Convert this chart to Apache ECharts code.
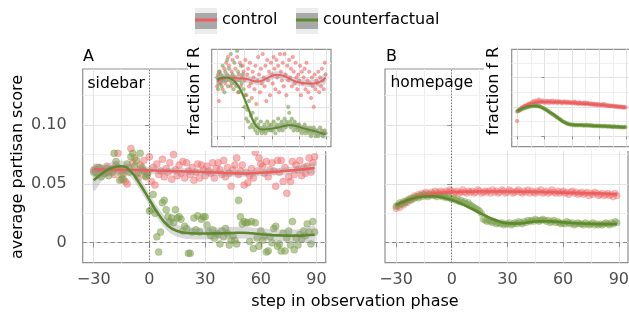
<!DOCTYPE html>
<html><head><meta charset="utf-8">
<script src="https://cdn.jsdelivr.net/npm/echarts@6/dist/echarts.min.js"></script>
<style>html,body{margin:0;padding:0;background:#fff}#c{width:629px;height:318px}</style>
</head><body><div id="c"></div>
<script>
// ---------------- data ----------------
const steps = [
 -30,-29,-28,-27,-26,-25,-24,-23,-22,-21,
 -20,-19,-18,-17,-16,-15,-14,-13,-12,-11,
 -10,-9,-8,-7,-6,-5,-4,-3,-2,-1,
 0,1,2,3,4,5,6,7,8,9,
 10,11,12,13,14,15,16,17,18,19,
 20,21,22,23,24,25,26,27,28,29,
 30,31,32,33,34,35,36,37,38,39,
 40,41,42,43,44,45,46,47,48,49,
 50,51,52,53,54,55,56,57,58,59,
 60,61,62,63,64,65,66,67,68,69,
 70,71,72,73,74,75,76,77,78,79,
 80,81,82,83,84,85,86,87,88,89];
const fitSteps = [-30,-25,-20,-15,-10,-5,0,5,10,15,20,25,30,35,40,45,50,55,60,65,70,75,80,85,89];

const legendNames = ['control','counterfactual'];
const panelTitles = ['A','B'];
const panelLabels = ['sidebar','homepage'];
const xTicks = [-30,0,30,60,90];
const xTickLabels = ['\u221230','0','30','60','90'];
const xMinor = [-15,15,45,75];
const yTicks = [0,0.05,0.1];
const yTickLabels = ['0','0.05','0.10'];
const yMinor = [0.025,0.075,0.125];
const inYTicks = [0,0.1,0.2];
const inYMinor = [0.05,0.15,0.25];

// sidebar (A) average partisan score
const sbCtrl = [
 0.062,0.060,0.064,0.058,0.063,0.061,0.059,0.065,0.060,0.062,
 0.063,0.058,0.066,0.076,0.061,0.054,0.059,0.052,0.050,0.064,
 0.080,0.068,0.072,0.059,0.055,0.066,0.062,0.070,0.057,0.060,
 0.073,0.052,0.064,0.049,0.067,0.058,0.061,0.071,0.056,0.063,
 0.060,0.068,0.054,0.075,0.062,0.057,0.066,0.059,0.069,0.055,
 0.068,0.061,0.058,0.064,0.053,0.060,0.067,0.055,0.066,0.062,
 0.057,0.065,0.061,0.059,0.068,0.055,0.063,0.068,0.062,0.058,
 0.070,0.056,0.064,0.059,0.048,0.062,0.066,0.072,0.058,0.061,
 0.066,0.049,0.060,0.051,0.057,0.063,0.055,0.077,0.061,0.072,
 0.067,0.065,0.059,0.069,0.056,0.062,0.068,0.061,0.048,0.070,
 0.060,0.070,0.052,0.064,0.042,0.056,0.052,0.069,0.058,0.066,
 0.062,0.070,0.057,0.064,0.059,0.065,0.072,0.060,0.068,0.073];
const sbCf = [
 0.060,0.062,0.058,0.064,0.056,0.061,0.059,0.063,0.057,0.062,
 0.060,0.076,0.069,0.064,0.053,0.058,0.054,0.062,0.067,0.060,
 0.073,0.076,0.065,0.070,0.059,0.076,0.064,0.061,0.056,0.058,
 0.027,0.028,0.041,0.025,0.005,-0.008,0.009,0.034,0.036,0.028,
 0.022,0.018,0.021,0.017,0.028,0.021,0.022,0.020,0.010,0.014,
 0.012,-0.009,-0.009,0.009,0.021,0.011,0.023,0.009,0.020,0.022,
 0.022,0.015,0.009,0.006,0.011,0.004,0.008,0.007,-0.001,0.010,
 0.005,0.012,0.008,-0.002,0.002,0.006,0.002,-0.001,0.036,0.022,
 0.016,0.018,0.017,0.017,0.001,0.018,-0.005,0.017,0.004,-0.003,
 0.010,0.002,0.006,-0.008,-0.007,0.005,0.000,0.012,0.014,-0.003,
 -0.001,-0.007,0.008,-0.007,0.004,0.010,-0.002,0.018,-0.006,0.004,
 -0.002,0.007,0.003,0.010,0.006,0.016,0.009,-0.001,0.018,0.009];
const sbCtrlFit = [0.0625,0.0622,0.0620,0.0619,0.0618,0.0617,0.0615,0.0612,0.0610,0.0608,0.0606,0.0603,0.0600,0.0597,0.0594,0.0590,0.0588,0.0590,0.0595,0.0600,0.0606,0.0613,0.0620,0.0628,0.0635];
const sbCtrlHW  = [0.0045,0.0035,0.0030,0.0030,0.0030,0.0030,0.0030,0.0028,0.0028,0.0028,0.0028,0.0028,0.0028,0.0028,0.0028,0.0028,0.0028,0.0028,0.0028,0.0030,0.0030,0.0030,0.0032,0.0038,0.0045];
const sbCfFit = [0.0530,0.0595,0.0638,0.0650,0.0605,0.0495,0.0365,0.0240,0.0145,0.0100,0.0082,0.0078,0.0078,0.0079,0.0080,0.0083,0.0085,0.0080,0.0072,0.0065,0.0062,0.0060,0.0060,0.0063,0.0068];
const sbCfHW  = [0.0090,0.0060,0.0050,0.0048,0.0048,0.0048,0.0050,0.0050,0.0050,0.0050,0.0050,0.0050,0.0050,0.0050,0.0050,0.0050,0.0050,0.0050,0.0050,0.0050,0.0050,0.0052,0.0055,0.0065,0.0078];

// homepage (B) average partisan score
const hpCtrl = [
 0.029,0.031,0.030,0.033,0.032,0.035,0.034,0.036,0.038,0.037,
 0.040,0.039,0.041,0.040,0.042,0.041,0.043,0.042,0.041,0.043,
 0.042,0.044,0.043,0.042,0.044,0.043,0.042,0.044,0.043,0.045,
 0.044,0.042,0.043,0.044,0.042,0.043,0.045,0.043,0.042,0.044,
 0.043,0.044,0.042,0.043,0.045,0.044,0.042,0.043,0.044,0.043,
 0.044,0.042,0.045,0.043,0.044,0.042,0.043,0.045,0.044,0.042,
 0.043,0.045,0.044,0.042,0.043,0.044,0.045,0.043,0.042,0.044,
 0.043,0.045,0.042,0.044,0.043,0.042,0.044,0.043,0.045,0.042,
 0.043,0.044,0.042,0.043,0.045,0.043,0.042,0.044,0.042,0.043,
 0.044,0.042,0.043,0.041,0.043,0.044,0.042,0.043,0.041,0.042,
 0.043,0.041,0.042,0.043,0.040,0.042,0.041,0.043,0.042,0.040,
 0.041,0.042,0.040,0.041,0.042,0.040,0.041,0.039,0.042,0.040];
const hpCf = [
 0.031,0.032,0.034,0.033,0.035,0.034,0.036,0.037,0.036,0.038,
 0.038,0.039,0.038,0.040,0.039,0.041,0.040,0.039,0.041,0.040,
 0.041,0.040,0.039,0.041,0.040,0.039,0.040,0.038,0.039,0.038,
 0.037,0.038,0.036,0.037,0.035,0.036,0.034,0.035,0.033,0.034,
 0.032,0.031,0.030,0.029,0.028,0.027,0.025,0.020,0.019,0.018,
 0.019,0.018,0.017,0.018,0.016,0.017,0.016,0.017,0.015,0.016,
 0.016,0.017,0.015,0.016,0.017,0.016,0.018,0.017,0.016,0.018,
 0.017,0.019,0.018,0.019,0.018,0.020,0.019,0.018,0.019,0.020,
 0.019,0.018,0.019,0.017,0.018,0.019,0.017,0.018,0.017,0.016,
 0.017,0.016,0.018,0.017,0.016,0.017,0.015,0.016,0.017,0.016,
 0.016,0.015,0.017,0.016,0.015,0.016,0.017,0.015,0.016,0.015,
 0.016,0.015,0.016,0.017,0.016,0.015,0.017,0.016,0.018,0.017];
const hpCtrlFit = [0.0315,0.0355,0.0385,0.0405,0.0418,0.0425,0.0430,0.0432,0.0434,0.0435,0.0435,0.0435,0.0435,0.0434,0.0433,0.0432,0.0430,0.0428,0.0426,0.0424,0.0422,0.0420,0.0418,0.0415,0.0413];
const hpCtrlHW  = [0.0015,0.0010,0.0008,0.0008,0.0008,0.0008,0.0008,0.0008,0.0008,0.0008,0.0008,0.0008,0.0008,0.0008,0.0008,0.0008,0.0008,0.0008,0.0008,0.0008,0.0008,0.0008,0.0009,0.0010,0.0012];
const hpCfFit = [0.0320,0.0355,0.0380,0.0393,0.0395,0.0385,0.0363,0.0332,0.0295,0.0255,0.0215,0.0183,0.0165,0.0162,0.0170,0.0180,0.0183,0.0180,0.0173,0.0167,0.0163,0.0160,0.0158,0.0158,0.0160];
const hpCfHW  = [0.0015,0.0010,0.0008,0.0008,0.0008,0.0008,0.0008,0.0008,0.0008,0.0008,0.0008,0.0008,0.0008,0.0008,0.0008,0.0008,0.0008,0.0008,0.0008,0.0008,0.0008,0.0008,0.0009,0.0010,0.0012];

// insets: fraction f R
const sbCtrlIn = [
 0.17,0.21,0.12,0.22,0.18,0.19,0.16,0.20,0.23,0.18,
 0.25,0.21,0.27,0.24,0.19,0.17,0.22,0.26,0.20,0.18,
 0.23,0.19,0.27,0.15,0.21,0.25,0.17,0.20,0.24,0.22,
 0.19,0.26,0.14,0.21,0.23,0.17,0.25,0.18,0.13,0.22,
 0.20,0.16,0.24,0.11,0.19,0.27,0.21,0.15,0.23,0.18,
 0.28,0.20,0.17,0.24,0.12,0.26,0.19,0.22,0.14,0.25,
 0.21,0.18,0.27,0.23,0.16,0.26,0.20,0.24,0.15,0.28,
 0.22,0.19,0.25,0.17,0.28,0.21,0.14,0.24,0.19,0.26,
 0.20,0.23,0.17,0.27,0.22,0.18,0.25,0.20,0.16,0.21,
 0.19,0.24,0.14,0.22,0.18,0.20,0.23,0.16,0.25,0.19,
 0.15,0.22,0.18,0.13,0.20,0.17,0.10,0.21,0.16,0.19,
 0.18,0.22,0.15,0.20,0.17,0.23,0.19,0.16,0.25,0.21];
const sbCfIn = [
 0.20,0.16,0.22,0.18,0.21,0.17,0.24,0.19,0.15,0.22,
 0.19,0.26,0.17,0.23,0.20,0.28,0.18,0.21,0.16,0.25,
 0.20,0.17,0.29,0.22,0.15,0.19,0.24,0.18,0.21,0.16,
 0.10,0.14,0.06,0.09,0.05,0.12,0.03,0.07,0.04,0.08,
 0.03,0.05,0.02,0.06,0.01,0.04,0.03,0.02,0.05,0.01,
 0.03,0.02,0.04,0.01,0.03,0.05,0.02,0.04,0.03,0.02,
 0.04,0.02,0.05,0.03,0.01,0.04,0.03,0.06,0.02,0.04,
 0.03,0.05,0.02,0.04,0.06,0.03,0.05,0.04,0.10,0.08,
 0.05,0.03,0.06,0.04,0.02,0.05,0.03,0.04,0.02,0.03,
 0.04,0.02,0.03,0.01,0.03,0.02,0.04,0.01,0.03,0.02,
 0.02,0.01,0.03,0.00,0.02,0.01,0.03,0.02,0.00,0.01,
 0.02,0.00,0.01,0.03,0.01,0.02,0.00,0.01,0.02,0.01];
const sbCtrlInFit = [0.186,0.195,0.198,0.199,0.198,0.197,0.196,0.193,0.188,0.186,0.190,0.198,0.205,0.209,0.208,0.203,0.195,0.188,0.183,0.181,0.180,0.180,0.182,0.189,0.199];
const sbCtrlInHW  = [0.020,0.015,0.013,0.012,0.012,0.012,0.012,0.012,0.012,0.012,0.012,0.012,0.012,0.012,0.012,0.012,0.012,0.012,0.012,0.012,0.012,0.013,0.014,0.016,0.020];
const sbCfInFit = [0.192,0.199,0.200,0.196,0.184,0.162,0.128,0.088,0.050,0.028,0.023,0.024,0.026,0.029,0.032,0.036,0.038,0.036,0.032,0.027,0.023,0.019,0.015,0.010,0.007];
const sbCfInHW  = [0.020,0.015,0.013,0.012,0.012,0.012,0.012,0.012,0.011,0.010,0.010,0.010,0.010,0.010,0.010,0.010,0.010,0.010,0.010,0.010,0.010,0.011,0.012,0.013,0.015];

const hpCtrlIn = [
 0.052,0.085,0.090,0.088,0.095,0.097,0.100,0.098,0.104,0.102,
 0.106,0.103,0.110,0.108,0.112,0.107,0.115,0.111,0.120,0.113,
 0.116,0.121,0.112,0.118,0.125,0.114,0.119,0.117,0.122,0.115,
 0.118,0.114,0.121,0.116,0.119,0.113,0.120,0.117,0.115,0.121,
 0.114,0.118,0.116,0.120,0.113,0.117,0.119,0.115,0.118,0.112,
 0.117,0.114,0.119,0.116,0.112,0.118,0.115,0.113,0.117,0.114,
 0.112,0.116,0.114,0.118,0.111,0.115,0.113,0.110,0.116,0.112,
 0.114,0.110,0.113,0.111,0.115,0.109,0.112,0.114,0.110,0.111,
 0.108,0.112,0.110,0.107,0.111,0.109,0.106,0.110,0.108,0.105,
 0.109,0.107,0.105,0.108,0.106,0.110,0.104,0.107,0.105,0.103,
 0.106,0.104,0.102,0.105,0.103,0.101,0.104,0.102,0.100,0.103,
 0.101,0.099,0.102,0.100,0.098,0.101,0.099,0.097,0.100,0.098];
const hpCfIn = [
 0.084,0.088,0.087,0.091,0.090,0.094,0.093,0.096,0.095,0.098,
 0.097,0.100,0.099,0.102,0.101,0.104,0.103,0.102,0.105,0.103,
 0.104,0.102,0.105,0.103,0.101,0.102,0.100,0.099,0.097,0.095,
 0.094,0.092,0.090,0.088,0.086,0.084,0.081,0.079,0.077,0.075,
 0.073,0.071,0.068,0.066,0.064,0.062,0.060,0.058,0.056,0.053,
 0.051,0.049,0.048,0.046,0.044,0.043,0.042,0.041,0.040,0.040,
 0.039,0.040,0.038,0.039,0.037,0.039,0.038,0.037,0.039,0.038,
 0.037,0.039,0.038,0.036,0.038,0.037,0.039,0.036,0.038,0.037,
 0.036,0.038,0.035,0.037,0.036,0.034,0.036,0.035,0.037,0.034,
 0.035,0.036,0.034,0.035,0.033,0.036,0.034,0.035,0.033,0.034,
 0.033,0.035,0.032,0.034,0.033,0.031,0.034,0.032,0.033,0.031,
 0.032,0.033,0.031,0.032,0.030,0.032,0.031,0.030,0.032,0.031];
const hpCtrlInFit = [0.085,0.097,0.105,0.110,0.114,0.116,0.117,0.117,0.116,0.116,0.115,0.114,0.113,0.112,0.111,0.110,0.109,0.108,0.107,0.106,0.104,0.103,0.101,0.100,0.099];
const hpCtrlInHW  = [0.006,0.004,0.003,0.003,0.003,0.003,0.003,0.003,0.003,0.003,0.003,0.003,0.003,0.003,0.003,0.003,0.003,0.003,0.003,0.003,0.003,0.003,0.003,0.004,0.004];
const hpCfInFit = [0.085,0.094,0.100,0.103,0.103,0.100,0.093,0.082,0.075,0.062,0.050,0.043,0.039,0.038,0.038,0.037,0.036,0.035,0.035,0.034,0.033,0.032,0.032,0.031,0.031];
const hpCfInHW  = [0.006,0.004,0.003,0.003,0.003,0.003,0.003,0.003,0.003,0.003,0.003,0.003,0.003,0.003,0.003,0.003,0.003,0.003,0.003,0.003,0.003,0.003,0.003,0.004,0.004];

// ---------------- style ----------------
const FONT = 'DejaVu Sans';
const RED_LINE = '#ec5f5f', RED_PT = '#ef6b6b';
const GRN_LINE = '#5b8a2b', GRN_PT = '#7b9e4b';
const BORDER = '#8f8f8f', GRID = '#e2e2e2', GRID_MINOR = '#efefef', LABEL = '#4d4d4d', BAND = '#9a9a9a';

const X_RANGE = [-35.95, 94.95];
const Y_RANGE = [-0.017, 0.1477];
const IN_Y_RANGE = [-0.0355, 0.296];

const grids = [
  {left: 82.7, top: 69, width: 243, height: 193.7, z: 0},
  {left: 385, top: 69, width: 243, height: 193.7, z: 0},
  {left: 211.7, top: 49.3, width: 119.3, height: 97.4, z: 11},
  {left: 511.7, top: 49.3, width: 119.3, height: 97.4, z: 11}
].map(g => Object.assign({show: true, backgroundColor: 'transparent', borderColor: BORDER, borderWidth: 1.2, containLabel: false, outerBoundsMode: 'none'}, g));

const xAxis = [], yAxis = [];
function addAxes(gi, o) {
  const xi = xAxis.length, yi = yAxis.length;
  xAxis.push({type: 'value', gridIndex: gi, min: X_RANGE[0], max: X_RANGE[1], position: 'bottom', z: o.z,
    axisLine: {show: false},
    axisTick: {show: true, customValues: xTicks, length: o.tick, lineStyle: {color: BORDER, width: 1}},
    axisLabel: {show: o.xl, customValues: xTicks, formatter: v => xTickLabels[xTicks.indexOf(v)], margin: 9, color: LABEL, fontSize: 16, fontFamily: FONT},
    splitLine: {show: true, lineStyle: {color: GRID, width: 1}}});
  xAxis.push({type: 'value', gridIndex: gi, min: X_RANGE[0], max: X_RANGE[1], position: 'top', z: o.z,
    axisLine: {show: false}, axisTick: {show: false, customValues: xMinor}, axisLabel: {show: false, customValues: xMinor},
    splitLine: {show: true, lineStyle: {color: GRID_MINOR, width: 1}}});
  yAxis.push({type: 'value', gridIndex: gi, min: o.yr[0], max: o.yr[1], position: 'left', z: o.z,
    axisLine: {show: false},
    axisTick: {show: true, customValues: o.yt, length: o.tick, lineStyle: {color: BORDER, width: 1}},
    axisLabel: {show: o.yl, customValues: o.yt, formatter: v => yTickLabels[yTicks.indexOf(v)], margin: 16, color: LABEL, fontSize: 16, fontFamily: FONT},
    splitLine: {show: true, lineStyle: {color: GRID, width: 1}}});
  yAxis.push({type: 'value', gridIndex: gi, min: o.yr[0], max: o.yr[1], position: 'right', z: o.z,
    axisLine: {show: false}, axisTick: {show: false, customValues: o.ym}, axisLabel: {show: false, customValues: o.ym},
    splitLine: {show: true, lineStyle: {color: GRID_MINOR, width: 1}}});
  return [xi, yi];
}
const axA  = addAxes(0, {z: 0, tick: 4.5, xl: true, yl: true,  yr: Y_RANGE, yt: yTicks, ym: yMinor});
const axB  = addAxes(1, {z: 0, tick: 4.5, xl: true, yl: false, yr: Y_RANGE, yt: yTicks, ym: yMinor});
const axAi = addAxes(2, {z: 11, tick: 3, xl: false, yl: false, yr: IN_Y_RANGE, yt: inYTicks, ym: inYMinor});
const axBi = addAxes(3, {z: 11, tick: 3, xl: false, yl: false, yr: IN_Y_RANGE, yt: inYTicks, ym: inYMinor});

function pairs(xs, ys) { return xs.map((x, i) => [x, ys[i]]); }
function fitLine(name, ax, fit, color, width, z) {
  return {type: 'line', name, xAxisIndex: ax[0], yAxisIndex: ax[1], data: pairs(fitSteps, fit), smooth: true,
    symbol: 'none', showSymbol: false, lineStyle: {color, width}, itemStyle: {color}, z, silent: true};
}
function points(name, ax, vals, color, size, opacity, z) {
  return {type: 'scatter', name, xAxisIndex: ax[0], yAxisIndex: ax[1], data: pairs(steps, vals), symbolSize: size,
    itemStyle: {color, opacity, borderColor: color, borderWidth: 0.6}, z, silent: true};
}
function band(ax, fit, hw, z) {
  return {type: 'custom', xAxisIndex: ax[0], yAxisIndex: ax[1], z, silent: true, clip: true,
    data: [[fitSteps[0], fit[0]]],
    renderItem: (params, api) => {
      const pts = [];
      for (let i = 0; i < fitSteps.length; i++) pts.push(api.coord([fitSteps[i], fit[i] + hw[i]]));
      for (let i = fitSteps.length - 1; i >= 0; i--) pts.push(api.coord([fitSteps[i], fit[i] - hw[i]]));
      return {type: 'polygon', shape: {points: pts, smooth: 0.3}, style: {fill: BAND, opacity: 0.38}};
    }};
}
function refLines(ax, z) {
  return {type: 'line', xAxisIndex: ax[0], yAxisIndex: ax[1], data: [], z, silent: true,
    markLine: {silent: true, symbol: 'none', label: {show: false}, animation: false,
      data: [
        {yAxis: 0, lineStyle: {type: [4, 3], color: '#8a8a8a', width: 1}},
        {xAxis: 0, lineStyle: {type: [1, 2], color: '#555555', width: 1}}
      ]}};
}

const series = [
  fitLine(legendNames[0], axA, sbCtrlFit, RED_LINE, 2.6, 5),
  fitLine(legendNames[1], axA, sbCfFit, GRN_LINE, 2.6, 5),
  refLines(axA, 1), refLines(axB, 1),
  points(legendNames[0], axA, sbCtrl, RED_PT, 7, 0.5, 2),
  points(legendNames[1], axA, sbCf, GRN_PT, 7, 0.55, 2),
  band(axA, sbCtrlFit, sbCtrlHW, 3), band(axA, sbCfFit, sbCfHW, 3),
  points(legendNames[0], axB, hpCtrl, RED_PT, 6.5, 0.42, 2),
  points(legendNames[1], axB, hpCf, GRN_PT, 6.5, 0.45, 2),
  band(axB, hpCtrlFit, hpCtrlHW, 3), band(axB, hpCfFit, hpCfHW, 3),
  fitLine(legendNames[0], axB, hpCtrlFit, RED_LINE, 2.6, 5),
  fitLine(legendNames[1], axB, hpCfFit, GRN_LINE, 2.6, 5),
  // insets
  refLines(axAi, 12), refLines(axBi, 12),
  points(legendNames[0], axAi, sbCtrlIn, RED_PT, 3.5, 0.6, 13),
  points(legendNames[1], axAi, sbCfIn, GRN_PT, 3.5, 0.6, 13),
  band(axAi, sbCtrlInFit, sbCtrlInHW, 14), band(axAi, sbCfInFit, sbCfInHW, 14),
  fitLine(legendNames[0], axAi, sbCtrlInFit, RED_LINE, 2, 15),
  fitLine(legendNames[1], axAi, sbCfInFit, GRN_LINE, 2, 15),
  points(legendNames[0], axBi, hpCtrlIn, RED_PT, 3.5, 0.6, 13),
  points(legendNames[1], axBi, hpCfIn, GRN_PT, 3.5, 0.6, 13),
  band(axBi, hpCtrlInFit, hpCtrlInHW, 14), band(axBi, hpCfInFit, hpCfInHW, 14),
  fitLine(legendNames[0], axBi, hpCtrlInFit, RED_LINE, 2, 15),
  fitLine(legendNames[1], axBi, hpCfInFit, GRN_LINE, 2, 15)
];

function txt(text, x, y, opt) {
  return Object.assign({type: 'text', x, y, z: 20, silent: true,
    style: Object.assign({text, fill: '#000', fontSize: 16, fontFamily: FONT, align: 'left', verticalAlign: 'middle', textAlign: 'left', textVerticalAlign: 'middle'}, opt && opt.style)},
    opt && opt.el);
}
const centered = {style: {align: 'center', textAlign: 'center'}};
const vert = {el: {rotation: Math.PI / 2}, style: {align: 'center', textAlign: 'center'}};

const legendBase = {orient: 'horizontal', top: 12, itemWidth: 22, itemHeight: 3, icon: 'rect', itemGap: 0, padding: 0,
  selectedMode: false, z: 20, textStyle: {fontSize: 16, fontFamily: FONT, color: '#000'}};

const option = {
  animation: false,
  backgroundColor: '#fff',
  grid: grids,
  xAxis, yAxis, series,
  legend: [
    Object.assign({}, legendBase, {left: 195, data: [legendNames[0]]}),
    Object.assign({}, legendBase, {left: 296, data: [legendNames[1]]})
  ],
  graphic: {elements: [
    {type: 'rect', z: 1, silent: true, shape: {x: 195, y: 8, width: 22, height: 26}, style: {fill: '#ececec'}},
    {type: 'rect', z: 1, silent: true, shape: {x: 195, y: 13, width: 22, height: 16}, style: {fill: '#a9a9a9'}},
    {type: 'rect', z: 1, silent: true, shape: {x: 296, y: 8, width: 22, height: 26}, style: {fill: '#ececec'}},
    {type: 'rect', z: 1, silent: true, shape: {x: 296, y: 13, width: 22, height: 16}, style: {fill: '#a9a9a9'}},
    {type: 'rect', z: 10, silent: true, shape: {x: 188, y: 44, width: 147, height: 107}, style: {fill: '#fff'}},
    {type: 'rect', z: 10, silent: true, shape: {x: 484, y: 44, width: 145, height: 107}, style: {fill: '#fff'}},
    txt(panelTitles[0], 83, 57),
    txt(panelTitles[1], 386, 57),
    txt(panelLabels[0], 87.5, 83.5, {style: {fontSize: 15.5}}),
    txt(panelLabels[1], 390.5, 83, {style: {fontSize: 15.5}}),
    txt('fraction f R', 194.5, 91, vert),
    txt('fraction f R', 493.5, 91, vert),
    txt('average partisan score', 17.5, 167, vert),
    txt('step in observation phase', 355, 302, centered)
  ]}
};
const chart = echarts.init(document.getElementById('c'));
chart.setOption(option);
</script></body></html>
